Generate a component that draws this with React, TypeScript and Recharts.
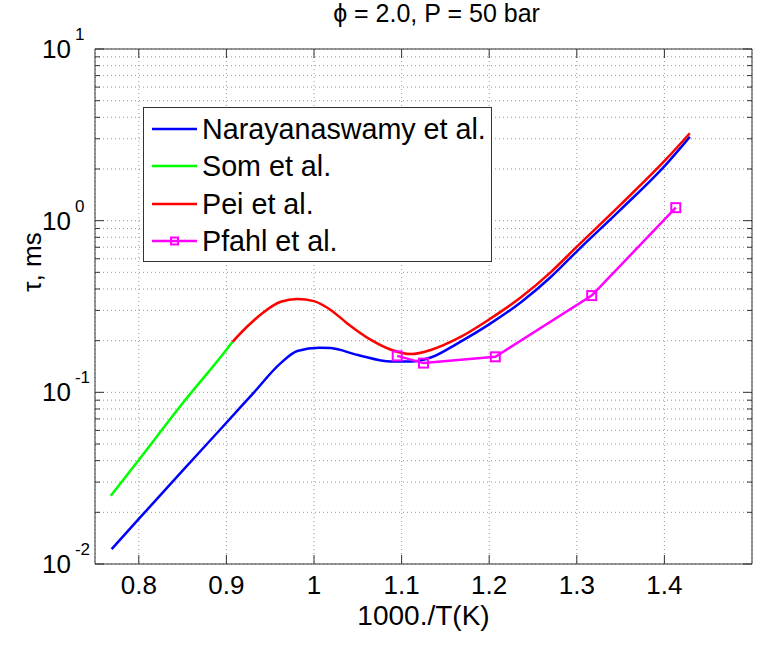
import React from 'react';
import { LineChart, Line, XAxis, YAxis, CartesianGrid } from 'recharts';

// 1000/T (1/K) vs ignition delay tau (ms)
const narayanaswamyX = [0.769, 0.8, 0.85, 0.9, 0.93, 0.962, 0.981, 1.006, 1.019, 1.05, 1.088, 1.111, 1.134, 1.164, 1.199, 1.237, 1.27, 1.301, 1.35, 1.402, 1.429];
const narayanaswamyTau = [0.0122, 0.0183, 0.035, 0.0665, 0.098, 0.148, 0.174, 0.182, 0.181, 0.165, 0.151, 0.151, 0.16, 0.193, 0.247, 0.337, 0.468, 0.67, 1.16, 2.13, 3.08];

const somX = [0.768, 0.8, 0.85, 0.9, 0.907];
const somTau = [0.025, 0.0404, 0.0863, 0.177, 0.197];

const peiX = [0.907, 0.925, 0.941, 0.962, 0.981, 1.0, 1.019, 1.038, 1.065, 1.088, 1.111, 1.134, 1.164, 1.199, 1.237, 1.27, 1.301, 1.35, 1.402, 1.429];
const peiTau = [0.197, 0.245, 0.289, 0.337, 0.35, 0.34, 0.302, 0.252, 0.202, 0.177, 0.167, 0.177, 0.206, 0.264, 0.36, 0.5, 0.713, 1.24, 2.28, 3.23];

const pfahlX = [1.095, 1.125, 1.207, 1.317, 1.413];
const pfahlTau = [0.163, 0.148, 0.161, 0.366, 1.19];

const xTicks = [0.8, 0.9, 1.0, 1.1, 1.2, 1.3, 1.4];
const decades = [0.01, 0.1, 1, 10];
const yTicks: number[] = [];
decades.forEach((d, i) => {
  if (i === decades.length - 1) { yTicks.push(d); return; }
  for (let m = 1; m <= 9; m++) yTicks.push(+(d * m).toPrecision(3));
});

const toRows = (xs: number[], ys: number[]) => xs.map((x, i) => ({ x, tau: ys[i] }));

const series = [
  { name: 'Narayanaswamy et al.', color: '#0000ff', data: toRows(narayanaswamyX, narayanaswamyTau), marker: false },
  { name: 'Som et al.', color: '#00ff00', data: toRows(somX, somTau), marker: false },
  { name: 'Pei et al.', color: '#ff0000', data: toRows(peiX, peiTau), marker: false },
  { name: 'Pfahl et al.', color: '#ff00ff', data: toRows(pfahlX, pfahlTau), marker: true },
];

const FONT = '"Liberation Sans", Arial, Helvetica, sans-serif';
const AXIS = '#333';

const isMajor = (v: number) => Math.abs(Math.log10(v) - Math.round(Math.log10(v))) < 1e-6;

const YTickLeft = (props: any) => {
  const { x, y, payload } = props;
  const v = payload.value;
  const major = isMajor(v);
  const exp = Math.round(Math.log10(v));
  return (
    <g>
      <line x1={x} x2={x + (major ? 9 : 5)} y1={y} y2={y} stroke={AXIS} />
      {major && (
        <text x={x - 53} y={y + 9} fontSize={26} fontFamily={FONT} fill="#000">
          10<tspan dx={4} dy={-18} fontSize={17}>{exp}</tspan>
        </text>
      )}
    </g>
  );
};

const YTickRight = (props: any) => {
  const { x, y, payload } = props;
  const major = isMajor(payload.value);
  return <line x1={x} x2={x - (major ? 9 : 5)} y1={y} y2={y} stroke={AXIS} />;
};

const XTickBottom = (props: any) => {
  const { x, y, payload } = props;
  return (
    <g>
      <line x1={x} x2={x} y1={y} y2={y - 9} stroke={AXIS} />
      <text x={x} y={y + 30} textAnchor="middle" fontSize={26} fontFamily={FONT} fill="#000">
        {String(payload.value)}
      </text>
    </g>
  );
};

const XTickTop = (props: any) => {
  const { x, y } = props;
  return <line x1={x} x2={x} y1={y} y2={y + 9} stroke={AXIS} />;
};

const SquareDot = (props: any) => {
  const { cx, cy } = props;
  if (cx == null || cy == null) return null;
  return <rect x={cx - 4.5} y={cy - 4.5} width={9} height={9} fill="none" stroke="#ff00ff" strokeWidth={2} />;
};

export default function App() {
  return (
    <div style={{ position: 'absolute', left: 0, top: 0, width: 759, height: 646, background: '#fff', fontFamily: FONT }}>
      <LineChart width={759} height={646} margin={{ top: 48, right: 0, bottom: 0, left: 0 }}>
        <CartesianGrid stroke="#999" strokeDasharray="1 3" />
        <XAxis
          dataKey="x"
          type="number"
          domain={[0.75, 1.5]}
          ticks={xTicks}
          allowDataOverflow
          height={82}
          tickSize={0}
          tickMargin={0}
          interval={0}
          stroke={AXIS}
          tick={<XTickBottom />}
        />
        <XAxis
          xAxisId="top"
          orientation="top"
          dataKey="x"
          type="number"
          domain={[0.75, 1.5]}
          ticks={xTicks}
          allowDataOverflow
          height={1}
          tickSize={0}
          tickMargin={0}
          interval={0}
          stroke={AXIS}
          tick={<XTickTop />}
        />
        <YAxis
          dataKey="tau"
          scale="log"
          type="number"
          domain={[0.01, 10]}
          ticks={yTicks}
          allowDataOverflow
          width={95}
          tickSize={0}
          tickMargin={0}
          interval={0}
          stroke={AXIS}
          tick={<YTickLeft />}
        />
        <YAxis
          yAxisId="right"
          orientation="right"
          dataKey="tau"
          scale="log"
          type="number"
          domain={[0.01, 10]}
          ticks={yTicks}
          allowDataOverflow
          width={7}
          tickSize={0}
          tickMargin={0}
          interval={0}
          stroke={AXIS}
          tick={<YTickRight />}
        />
        {series.map((s) => (
          <Line
            key={s.name}
            data={s.data}
            dataKey="tau"
            name={s.name}
            type={s.marker ? 'linear' : 'monotone'}
            stroke={s.color}
            strokeWidth={2.5}
            dot={s.marker ? <SquareDot /> : false}
            activeDot={false}
            isAnimationActive={false}
          />
        ))}
      </LineChart>

      <div style={{ position: 'absolute', left: 0, width: 759, top: -1, textAlign: 'center', paddingLeft: 114, boxSizing: 'border-box', fontSize: 25, lineHeight: '28px', color: '#000' }}>
        ϕ = 2.0, P = 50 bar
      </div>
      <div style={{ position: 'absolute', left: 95, width: 657, top: 604, textAlign: 'center', fontSize: 28, lineHeight: '24px', color: '#000' }}>
        1000./T(K)
      </div>
      <div style={{ position: 'absolute', left: 32, top: 262, transform: 'translate(-50%, -50%) rotate(-90deg)', fontSize: 26, lineHeight: '28px', whiteSpace: 'nowrap', color: '#000' }}>
        τ, ms
      </div>

      <div style={{ position: 'absolute', left: 143, top: 107, width: 349, height: 155, border: '1px solid #333', background: '#fff', boxSizing: 'border-box' }}>
        {series.map((s, i) => (
          <div key={s.name} style={{ position: 'absolute', left: 0, top: 21 + i * 37.3 - 16, height: 32, display: 'flex', alignItems: 'center' }}>
            <svg width={58} height={32} style={{ display: 'block' }}>
              <line x1={8} x2={53} y1={16} y2={16} stroke={s.color} strokeWidth={2.5} />
              {s.marker && <rect x={27} y={12.5} width={7} height={7} fill="none" stroke={s.color} strokeWidth={2} />}
            </svg>
            <span style={{ fontSize: 28.7, lineHeight: '32px', color: '#000', whiteSpace: 'nowrap' }}>{s.name}</span>
          </div>
        ))}
      </div>
    </div>
  );
}
